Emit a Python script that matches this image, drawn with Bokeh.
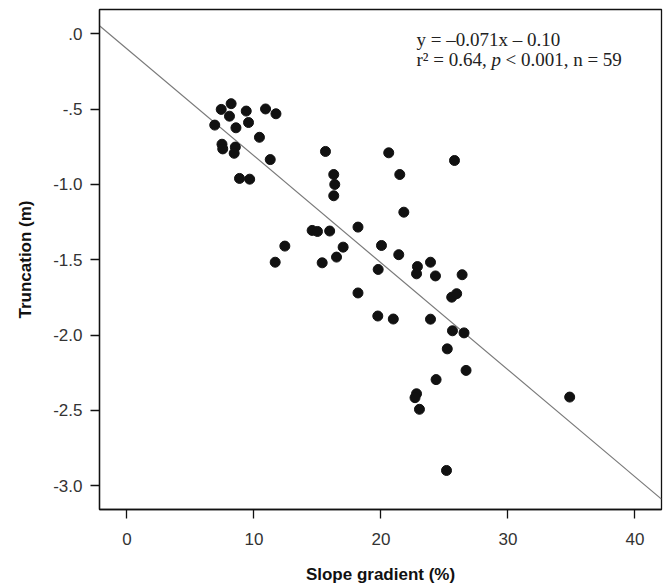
from bokeh.plotting import figure
from bokeh.models import FixedTicker, Label, Range1d
from bokeh.embed import file_html
from bokeh.resources import INLINE

# Data
slope_gradient = [8.20, 7.42, 9.39, 10.91, 11.73, 8.07, 9.57, 6.91, 8.58, 10.43,
                  7.48, 7.54, 8.53, 8.44, 11.28, 15.63, 16.28, 16.36, 16.28, 8.86,
                  9.66, 14.58, 15.00, 15.96, 12.43, 11.67, 15.37, 16.50, 17.02, 20.61,
                  25.79, 21.48, 21.80, 18.19, 20.04, 21.40, 19.78, 22.87, 22.80, 23.90,
                  24.29, 26.39, 18.19, 25.57, 25.96, 19.75, 20.97, 23.90, 25.63, 26.54,
                  25.22, 26.70, 24.34, 22.80, 22.68, 23.03, 34.86, 25.16]
truncation = [-0.464, -0.502, -0.513, -0.499, -0.531, -0.547, -0.589, -0.606, -0.624, -0.687,
              -0.733, -0.764, -0.752, -0.793, -0.835, -0.781, -0.934, -1.000, -1.075, -0.960,
              -0.965, -1.305, -1.312, -1.309, -1.409, -1.516, -1.520, -1.482, -1.416, -0.790,
              -0.841, -0.934, -1.184, -1.283, -1.405, -1.466, -1.564, -1.545, -1.593, -1.516,
              -1.607, -1.599, -1.720, -1.748, -1.725, -1.873, -1.893, -1.894, -1.971, -1.985,
              -2.091, -2.234, -2.295, -2.389, -2.415, -2.492, -2.411, -2.898]

x_ticks = [0, 10, 20, 30, 40]
y_ticks = [0.0, -0.5, -1.0, -1.5, -2.0, -2.5, -3.0]
y_tick_labels = [".0", "-.5", "-1.0", "-1.5", "-2.0", "-2.5", "-3.0"]

fit_slope = -0.071
fit_intercept = -0.10

x_lo, x_hi = -2.165, 42.09
y_lo, y_hi = -3.157, 0.161

p = figure(width=667, height=587,
           x_range=Range1d(x_lo, x_hi), y_range=Range1d(y_lo, y_hi),
           output_backend="svg", toolbar_location=None,
           min_border_left=99, min_border_right=6,
           min_border_top=9, min_border_bottom=78)

p.xgrid.visible = False
p.ygrid.visible = False
p.outline_line_color = "#111111"
p.outline_line_width = 1.3
p.background_fill_color = "white"
p.border_fill_color = "white"

p.xaxis.ticker = FixedTicker(ticks=x_ticks)
p.yaxis.ticker = FixedTicker(ticks=y_ticks)
p.yaxis.major_label_overrides = {t: l for t, l in zip(y_ticks, y_tick_labels)}

for ax in (p.xaxis, p.yaxis):
    ax.axis_line_color = "#111111"
    ax.axis_line_width = 1.3
    ax.major_tick_line_color = "#111111"
    ax.major_tick_line_width = 1.3
    ax.major_tick_out = 9
    ax.major_tick_in = 0
    ax.minor_tick_out = 0
    ax.minor_tick_in = 0
    ax.major_label_text_font = "Liberation Sans"
    ax.major_label_text_font_size = "17px"
    ax.major_label_text_color = "#333333"
    ax.axis_label_text_font = "Liberation Sans"
    ax.axis_label_text_font_size = "17px"
    ax.axis_label_text_font_style = "bold"
    ax.axis_label_text_color = "#111111"

p.xaxis.axis_label = "Slope gradient (%)"
p.yaxis.axis_label = "Truncation (m)"
p.xaxis.major_label_standoff = 14
p.yaxis.major_label_standoff = 8
p.xaxis.axis_label_standoff = 17
p.yaxis.axis_label_standoff = 15

# regression line across the plot
p.line([x_lo, x_hi], [fit_slope * x_lo + fit_intercept, fit_slope * x_hi + fit_intercept],
       line_color="#7a7a7a", line_width=1.2)

p.scatter(slope_gradient, truncation, size=10, color="#111111")

serif = "Liberation Serif"
fs = "19px"
p.add_layout(Label(x=22.80, y=-0.040, text="y = \u20130.071x \u2013 0.10",
                   text_font=serif, text_font_size=fs, text_color="#222222",
                   text_baseline="alphabetic"))
p.add_layout(Label(x=22.80, y=-0.172, text="r\u00b2 = 0.64,",
                   text_font=serif, text_font_size=fs, text_color="#222222",
                   text_baseline="alphabetic"))
p.add_layout(Label(x=28.70, y=-0.172, text="p",
                   text_font=serif, text_font_size=fs, text_color="#222222",
                   text_font_style="italic", text_baseline="alphabetic"))
p.add_layout(Label(x=29.80, y=-0.172, text="< 0.001, n = 59",
                   text_font=serif, text_font_size=fs, text_color="#222222",
                   text_baseline="alphabetic"))

open("out.html", "w").write(file_html(p, INLINE))
